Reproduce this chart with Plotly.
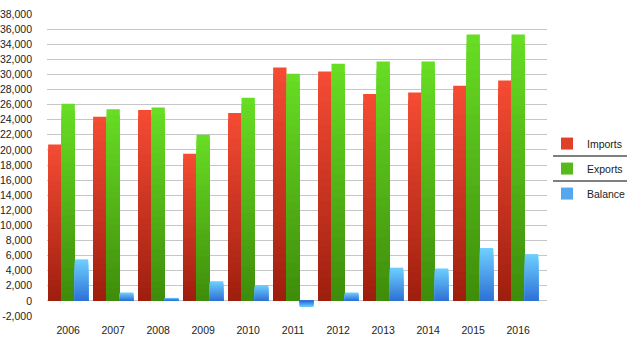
import plotly.graph_objects as go

years = [2006, 2007, 2008, 2009, 2010, 2011, 2012, 2013, 2014, 2015, 2016]
imports = [20700, 24400, 25300, 19500, 24900, 30900, 30400, 27400, 27600, 28500, 29200]
exports = [26100, 25400, 25600, 22000, 26900, 30100, 31400, 31700, 31700, 35300, 35300]
balance = [5500, 1100, 400, 2600, 2100, -800, 1100, 4400, 4300, 7000, 6200]
series_names = ["Imports", "Exports", "Balance"]
ytick_vals = list(range(-2000, 38001, 2000))
ytick_text = [f"{v:,}" for v in ytick_vals]

# top colour -> bottom colour for each series' vertical gradient
grad = {
    "Imports": ((246, 76, 52), (158, 30, 14)),
    "Exports": ((104, 222, 36), (62, 140, 10)),
    "Balance": ((110, 208, 255), (46, 112, 214)),
}
legend_col = {"Imports": "#e0402a", "Exports": "#55bb1c", "Balance": "#55a8f0"}

N = 30
fig = go.Figure()
for name, vals in zip(series_names, [imports, exports, balance]):
    top, bot = grad[name]
    for k in range(N - 1, -1, -1):
        t = (k + 0.5) / N
        c = tuple(round(bot[i] + (top[i] - bot[i]) * t) for i in range(3))
        fig.add_trace(go.Bar(
            x=years, y=[v * (k + 1) / N for v in vals],
            offsetgroup=name, marker=dict(color=f"rgb{c}", line=dict(width=0)),
            showlegend=False, hoverinfo="skip", legendgroup=name,
        ))
    fig.add_trace(go.Bar(
        x=[None], y=[None], name=name, offsetgroup=name, legendgroup=name,
        marker=dict(color=legend_col[name], line=dict(width=0)), showlegend=True,
    ))

fig.update_layout(
    width=640, height=351,
    margin=dict(l=47, r=93, t=14, b=35, autoexpand=False),
    paper_bgcolor="white", plot_bgcolor="white",
    font=dict(family="Liberation Sans, Arial, sans-serif", size=10.5, color="#222222"),
    barmode="group", bargap=0.11, bargroupgap=0,
    xaxis=dict(range=[2005.53, 2016.64], tickvals=years, ticktext=[str(y) for y in years],
               showgrid=False, zeroline=False, showline=False, ticks="",
               ticklabelstandoff=6, automargin=False),
    yaxis=dict(range=[-2000, 38000], tickvals=ytick_vals, ticktext=ytick_text,
               showgrid=False, zeroline=False, showline=False, ticks="",
               ticklabelstandoff=14, automargin=False),
    yaxis2=dict(range=[-2000, 38000], overlaying="y", tickvals=list(range(0, 38001, 2000)),
                showticklabels=False, showgrid=True, gridcolor="#c6c6c6", gridwidth=1,
                zeroline=False, showline=False, ticks="", automargin=False),
    legend=dict(x=1.0, y=0.619, xanchor="left", yanchor="top", bgcolor="rgba(0,0,0,0)",
                tracegroupgap=6, font=dict(size=10.5)),
    showlegend=True,
)
# dummy trace to activate yaxis2 gridlines
fig.add_trace(go.Scatter(x=[None], y=[None], yaxis="y2", showlegend=False, hoverinfo="skip"))

for yp in [156, 181]:
    yy = (316 - yp) / 302
    fig.add_shape(type="line", xref="paper", yref="paper", x0=1.012, x1=1.16, y0=yy, y1=yy,
                  line=dict(color="#555555", width=1.5))

fig.write_html("out.html")
